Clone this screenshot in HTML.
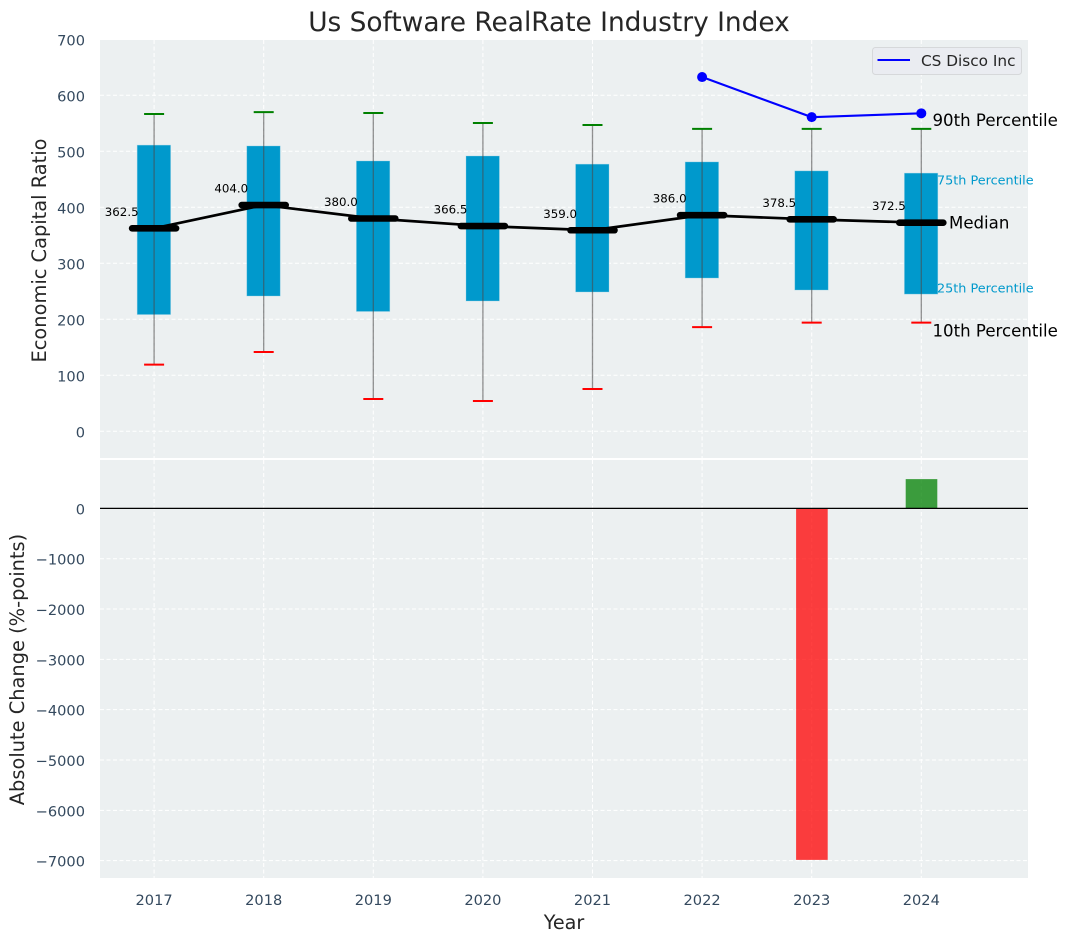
<!DOCTYPE html>
<html lang="en">
<head>
<meta charset="utf-8">
<title>Us Software RealRate Industry Index</title>
<style>
html,body{margin:0;padding:0;background:#fff;width:1067px;height:942px;overflow:hidden}
svg{display:block;font-family:"DejaVu Sans","Liberation Sans",sans-serif}
</style>
</head>
<body>
<svg id="chart" xmlns="http://www.w3.org/2000/svg" width="1067" height="942" viewBox="0 0 1067 942"></svg>
<script>
const years = [2017, 2018, 2019, 2020, 2021, 2022, 2023, 2024];
const p90 = [566.6, 570, 568.4, 550.5, 547, 540, 540, 540];
const p75 = [511, 509.5, 482.7, 491.6, 477, 481, 465, 461];
const medians = [362.5, 404, 380, 366.5, 359, 386, 378.5, 372.5];
const p25 = [208.5, 241.6, 214, 232.7, 248.8, 273.7, 252.3, 245];
const p10 = [119, 141.6, 57.7, 54, 75.5, 186, 194, 194];
const companyYears = [2022, 2023, 2024];
const companyValues = [632.6, 561, 567.8];
const changeYears = [2023, 2024];
const changeValues = [-6985, 582];
const upperTicks = [0, 100, 200, 300, 400, 500, 600, 700];
const lowerTicks = [0, -1000, -2000, -3000, -4000, -5000, -6000, -7000];

const svg = document.getElementById('chart');
const NS = 'http://www.w3.org/2000/svg';
const X = v => 154.1 + 109.6 * (v - 2017);
const YU = v => 431.3 - 0.56 * v;
const YL = v => 508.4 - 0.05032 * v;
const PL = 100, PR = 1028;

function mk(tag, attrs, text) {
  const el = document.createElementNS(NS, tag);
  for (const k in attrs) el.setAttribute(k, attrs[k]);
  if (text !== undefined) el.textContent = text;
  svg.appendChild(el);
  return el;
}
let el;

el = mk('rect', {x: PL, y: 40, width: PR - PL, height: 418, fill: '#ecf0f1'});


el = mk('rect', {x: PL, y: 460, width: PR - PL, height: 418, fill: '#ecf0f1'});



const gridStyle = {stroke: '#ffffff', 'stroke-width': 1, 'stroke-dasharray': '4 2.5', fill: 'none'};
upperTicks.forEach(t => {
  if (t < 700) {
    el = mk('line', {x1: PL, x2: PR, y1: YU(t), y2: YU(t), ...gridStyle});
    
    
  }
  el = mk('text', {x: 85, y: YU(t) + 6, 'text-anchor': 'end', 'font-size': 14.6, fill: '#34495e'}, String(t));
  
  
});
lowerTicks.forEach(t => {
  el = mk('line', {x1: PL, x2: PR, y1: YL(t), y2: YL(t), ...gridStyle});
  
  
  el = mk('text', {x: 85, y: YL(t) + 6, 'text-anchor': 'end', 'font-size': 14.6, fill: '#34495e'}, String(t).replace('-', '\u2212'));
  
  
});
years.forEach(y => {
  el = mk('line', {x1: X(y), x2: X(y), y1: 40, y2: 458, ...gridStyle});
  
  
  el = mk('line', {x1: X(y), x2: X(y), y1: 460, y2: 878, ...gridStyle});
  
  
  el = mk('text', {x: X(y), y: 905, 'text-anchor': 'middle', 'font-size': 14.6, fill: '#34495e'}, String(y));
  
  
});

years.forEach((y, i) => {
  el = mk('rect', {x: X(y) - 16.9, y: YU(p75[i]), width: 33.4, height: YU(p25[i]) - YU(p75[i]), fill: '#0099cc', stroke: '#8fd0e6', 'stroke-opacity': 0.5, 'stroke-width': 0.7});
  
  
  el = mk('line', {x1: X(y), x2: X(y), y1: YU(p90[i]), y2: YU(p10[i]), stroke: '#4a4a4a', 'stroke-opacity': 0.6, 'stroke-width': 1.3});
  
  
  el = mk('line', {x1: X(y) - 10, x2: X(y) + 10, y1: YU(p90[i]), y2: YU(p90[i]), stroke: '#008000', 'stroke-width': 2});
  
  
  el = mk('line', {x1: X(y) - 10, x2: X(y) + 10, y1: YU(p10[i]), y2: YU(p10[i]), stroke: '#ff0000', 'stroke-width': 2});
  
  
});

el = mk('polyline', {points: years.map((y, i) => X(y) + ',' + YU(medians[i])).join(' '), fill: 'none', stroke: '#000', 'stroke-width': 2.7});


years.forEach((y, i) => {
  el = mk('line', {x1: X(y) - 22, x2: X(y) + 22, y1: YU(medians[i]), y2: YU(medians[i]), stroke: '#000', 'stroke-width': 6.6, 'stroke-linecap': 'round'});
  
  
  el = mk('text', {x: X(y) - 32.4, y: YU(medians[i]) - 12.5, 'text-anchor': 'middle', 'font-size': 11.8, fill: '#000'}, medians[i].toFixed(1));
  
  
});

el = mk('polyline', {points: companyYears.map((y, i) => X(y) + ',' + YU(companyValues[i])).join(' '), fill: 'none', stroke: '#0000ff', 'stroke-width': 2.1});


companyYears.forEach((y, i) => {
  el = mk('circle', {cx: X(y), cy: YU(companyValues[i]), r: 5, fill: '#0000ff'});
  
  
});

changeYears.forEach((y, i) => {
  const v = changeValues[i];
  el = mk('rect', {x: X(y) - 15.6, y: Math.min(YL(v), YL(0)), width: 31.6, height: Math.abs(YL(v) - YL(0)), fill: v < 0 ? '#ff0000' : '#008000', 'fill-opacity': 0.75});
  
  
});
el = mk('line', {x1: PL, x2: PR, y1: YL(0), y2: YL(0), stroke: '#000', 'stroke-width': 1.2});



el = mk('text', {x: 932.5, y: 126, 'font-size': 16.6, fill: '#000'}, '90th Percentile');


el = mk('text', {x: 937, y: 184.3, 'font-size': 12.8, fill: '#0099cc'}, '75th Percentile');


el = mk('text', {x: 949, y: 228.5, 'font-size': 16.6, fill: '#000'}, 'Median');


el = mk('text', {x: 937, y: 292.3, 'font-size': 12.8, fill: '#0099cc'}, '25th Percentile');


el = mk('text', {x: 932.5, y: 336.7, 'font-size': 16.6, fill: '#000'}, '10th Percentile');



el = mk('rect', {x: 872.5, y: 47.5, width: 149, height: 27, rx: 3, fill: '#eaecf1', stroke: '#d6d8da', 'stroke-width': 1});


el = mk('line', {x1: 877.5, x2: 910, y1: 60, y2: 60, stroke: '#0000ff', 'stroke-width': 2.1});


el = mk('text', {x: 921, y: 66, 'font-size': 15.3, fill: '#262626'}, 'CS Disco Inc');



el = mk('text', {x: 549, y: 31, 'text-anchor': 'middle', 'font-size': 26.4, fill: '#262626'}, 'Us Software RealRate Industry Index');


el = mk('text', {x: 564, y: 929, 'text-anchor': 'middle', 'font-size': 19.2, fill: '#262626'}, 'Year');


el = mk('text', {transform: 'translate(46,250.5) rotate(-90)', 'text-anchor': 'middle', 'font-size': 19.4, fill: '#262626'}, 'Economic Capital Ratio');


el = mk('text', {transform: 'translate(24,669.5) rotate(-90)', 'text-anchor': 'middle', 'font-size': 19.4, fill: '#262626'}, 'Absolute Change (%-points)');


</script>
</body>
</html>
